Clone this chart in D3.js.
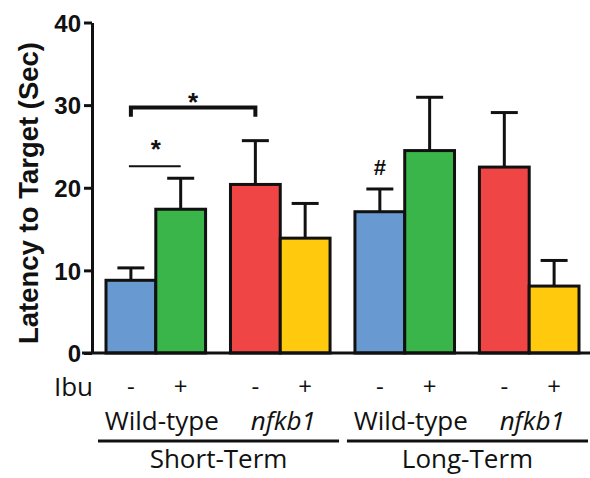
<!DOCTYPE html>
<html lang="en">
<head>
<meta charset="UTF-8">
<title>Latency to Target</title>
<script src="https://cdn.jsdelivr.net/npm/d3@7"></script>
<style>
  body { margin: 0; background: #fff; }
  .tick text { font-family: Arial, "Liberation Sans", sans-serif; font-weight: bold; font-size: 24px; fill: #111; }
  .lbl { font-family: "Open Sans", sans-serif; font-size: 26px; fill: #111; }
  .sign { font-family: "Open Sans", sans-serif; font-size: 24px; fill: #111; }
</style>
</head>
<body>
<script>
// data
var groups = ["ST-WT", "ST-nfkb1", "LT-WT", "LT-nfkb1"];
var genotypeLabels = ["Wild-type", "nfkb1", "Wild-type", "nfkb1"];
var ibu = ["-", "+"];
var means = [8.8, 17.4, 20.4, 13.9, 17.1, 24.5, 22.5, 8.1];
var sems = [1.5, 3.75, 5.3, 4.2, 2.75, 6.45, 6.6, 3.1];
var colors = ["#6899d0", "#39b54a", "#ef4545", "#ffc90e"];
var yTicks = [0, 10, 20, 30, 40];
var terms = ["Short-Term", "Long-Term"];

var w = 590, h = 478;

var svg = d3.select("body").append("svg")
  .attr("width", w)
  .attr("height", h);

var y = d3.scaleLinear().domain([0, 40]).range([353, 22.5]);

var x0 = d3.scaleBand()
  .domain(groups)
  .range([106, 579])
  .paddingInner(0.2)
  .paddingOuter(0);

var x1 = d3.scaleBand()
  .domain(ibu)
  .range([0, x0.bandwidth()]);

var bars = [];
groups.forEach(function(g, gi) {
  ibu.forEach(function(s, si) {
    var i = gi * 2 + si;
    bars.push({ group: g, ibu: s, mean: means[i], sem: sems[i], color: colors[(gi % 2) * 2 + si] });
  });
});

function bx(d) { return x0(d.group) + x1(d.ibu); }
function cx(d) { return bx(d) + x1.bandwidth() / 2; }

// error bars (upper only)
var eb = svg.append("g").attr("stroke", "#111").attr("stroke-width", 3);
eb.selectAll("line.v").data(bars).enter().append("line")
  .attr("x1", cx).attr("x2", cx)
  .attr("y1", function(d) { return y(d.mean); })
  .attr("y2", function(d) { return y(d.mean + d.sem); });
eb.selectAll("line.c").data(bars).enter().append("line")
  .attr("x1", function(d) { return cx(d) - 13.5; })
  .attr("x2", function(d) { return cx(d) + 13.5; })
  .attr("y1", function(d) { return y(d.mean + d.sem); })
  .attr("y2", function(d) { return y(d.mean + d.sem); });

// bars
svg.append("g").selectAll("rect").data(bars).enter().append("rect")
  .attr("x", bx)
  .attr("y", function(d) { return y(d.mean); })
  .attr("width", x1.bandwidth())
  .attr("height", function(d) { return y(0) - y(d.mean); })
  .attr("fill", function(d) { return d.color; })
  .attr("stroke", "#111")
  .attr("stroke-width", 3);

// y axis
var yAxis = d3.axisLeft(y).tickValues(yTicks).tickSize(8).tickSizeOuter(0).tickPadding(3);
var ga = svg.append("g")
  .attr("transform", "translate(92,0)")
  .call(yAxis);
ga.select(".domain").attr("stroke", "#111").attr("stroke-width", 3);
ga.selectAll(".tick line").attr("stroke", "#111").attr("stroke-width", 3);
ga.selectAll(".tick text").attr("dy", "0.36em");

// baseline
svg.append("line")
  .attr("x1", 82).attr("x2", w)
  .attr("y1", y(0)).attr("y2", y(0))
  .attr("stroke", "#111").attr("stroke-width", 3);

svg.append("text")
  .attr("transform", "translate(38," + 193 + ") rotate(-90)")
  .attr("text-anchor", "middle")
  .style("font-family", "Arial, 'Liberation Sans', sans-serif")
  .style("font-weight", "bold")
  .style("font-size", "27.5px")
  .attr("fill", "#111")
  .text("Latency to Target (Sec)");

// significance marks
var b0 = bars[0], b1 = bars[1], b2 = bars[2], b4 = bars[4];
svg.append("path")
  .attr("d", "M" + cx(b0) + "," + y(28.6) + "V" + y(29.7) + "H" + cx(b2) + "V" + y(28.6))
  .attr("fill", "none").attr("stroke", "#111").attr("stroke-width", 4);
svg.append("text")
  .attr("x", (cx(b0) + cx(b2)) / 2).attr("y", y(29.7) + 3)
  .attr("text-anchor", "middle")
  .style("font-family", "Arial, sans-serif").style("font-weight", "bold").style("font-size", "26px")
  .attr("fill", "#111").text("*");

svg.append("line")
  .attr("x1", cx(b0) - 2).attr("x2", cx(b1))
  .attr("y1", y(22.6)).attr("y2", y(22.6))
  .attr("stroke", "#111").attr("stroke-width", 2.2);
svg.append("text")
  .attr("x", (cx(b0) + cx(b1)) / 2).attr("y", y(22.6) - 8)
  .attr("text-anchor", "middle")
  .style("font-family", "Arial, sans-serif").style("font-weight", "bold").style("font-size", "26px")
  .attr("fill", "#111").text("*");

svg.append("text")
  .attr("x", cx(b4)).attr("y", y(b4.mean + b4.sem) - 14)
  .attr("text-anchor", "middle")
  .style("font-family", "Arial, sans-serif").style("font-weight", "bold").style("font-size", "22px")
  .attr("fill", "#111").text("#");

// bottom labels
svg.append("text").attr("class", "lbl")
  .attr("x", 93).attr("y", 396).attr("text-anchor", "end").text("Ibu");

svg.append("g").selectAll("text").data(bars).enter().append("text")
  .attr("class", "sign")
  .attr("x", cx).attr("y", 395)
  .attr("text-anchor", "middle")
  .text(function(d) { return d.ibu; });

svg.append("g").selectAll("text").data(groups).enter().append("text")
  .attr("class", "lbl")
  .attr("x", function(g, i) { return x0(g) + x0.bandwidth() / 2 + (i % 2 === 0 ? 6 : 3); })
  .attr("y", 430)
  .attr("text-anchor", "middle")
  .style("font-style", function(g, i) { return i % 2 ? "italic" : "normal"; })
  .text(function(g, i) { return genotypeLabels[i]; });

terms.forEach(function(t, ti) {
  var left = x0(groups[ti * 2]) - 8;
  var right = x0(groups[ti * 2 + 1]) + x0.bandwidth() + 9;
  svg.append("line")
    .attr("x1", left).attr("x2", right)
    .attr("y1", 441).attr("y2", 441)
    .attr("stroke", "#111").attr("stroke-width", 3);
  svg.append("text").attr("class", "lbl")
    .attr("x", (left + right) / 2).attr("y", 468)
    .attr("text-anchor", "middle")
    .text(t);
});
</script>
</body>
</html>
